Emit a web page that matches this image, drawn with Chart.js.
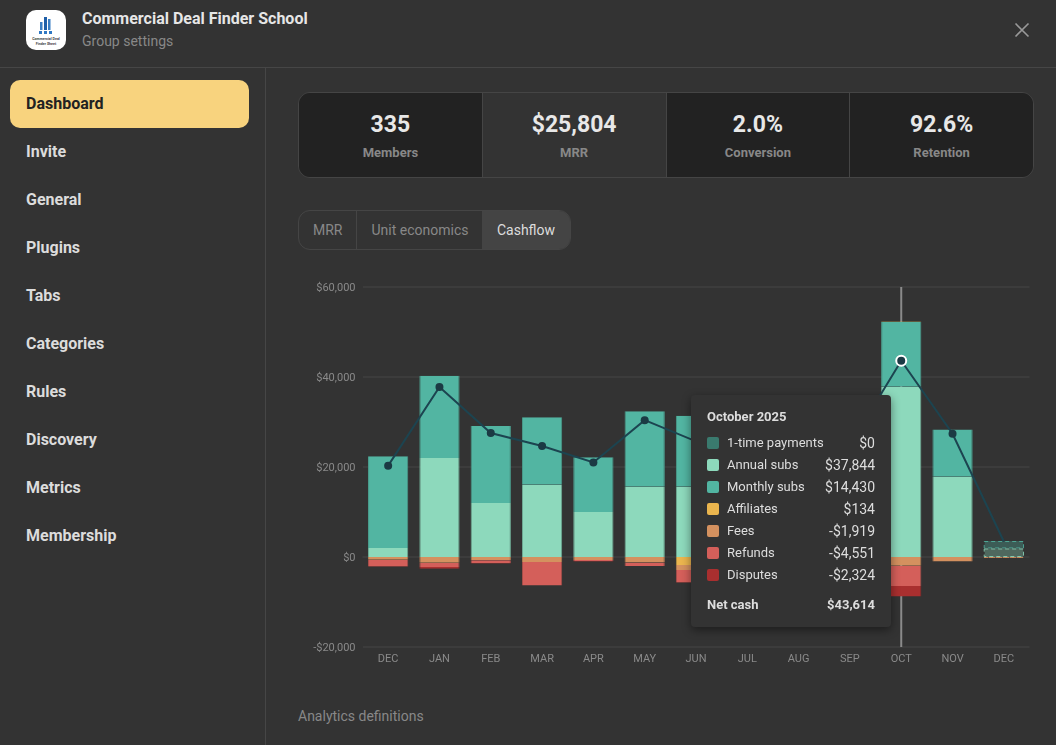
<!DOCTYPE html>
<html>
<head>
<meta charset="utf-8">
<title>Group settings</title>
<script src="https://cdn.jsdelivr.net/npm/chart.js@4"></script>
<style>
    * { box-sizing: border-box; }
    html, body { margin: 0; width: 1056px; height: 745px; overflow: hidden; background: #333; font-family: Roboto, sans-serif; }
    .abs { position: absolute; }
    #header { left: 0; top: 0; width: 1056px; height: 68px; border-bottom: 1px solid #464646; }
    #logo { left: 26px; top: 10px; width: 40px; height: 40px; border-radius: 10px; background: #fff; }
    #title { left: 82px; top: 9px; font-size: 16px; font-weight: 700; color: #e6e6e6; line-height: 20px; }
    #subtitle { left: 82px; top: 32px; font-size: 14px; color: #888; line-height: 18px; }
    #sidebar { left: 0; top: 68px; width: 266px; height: 677px; border-right: 1px solid #464646; }
    .nav { position: absolute; left: 10px; width: 239px; height: 48px; padding-left: 16px; line-height: 47px; font-size: 16px; font-weight: 700; color: #dcdcdc; border-radius: 10px; }
    .nav.active { background: #f8d37e; color: #222; }
    #stats { left: 298px; top: 92px; width: 736px; height: 86px; border: 1px solid #454545; border-radius: 12px; display: flex; overflow: hidden; }
    .stat { flex: 1; background: #222; border-left: 1px solid #454545; text-align: center; }
    .stat:first-child { border-left: 0; }
    .stat.active { background: #333; }
    .stat b { display: block; margin-top: 18px; font-size: 23px; line-height: 28px; color: #e8e8e8; }
    .stat span { display: block; margin-top: 5px; font-size: 13px; line-height: 18px; font-weight: 700; color: #888; }
    #tabs { left: 298px; top: 210px; height: 40px; border: 1px solid #454545; border-radius: 12px; display: flex; overflow: hidden; font-size: 14px; line-height: 39px; color: #888; }
    #tabs div { padding: 0 14px; border-left: 1px solid #454545; }
    #tabs div:first-child { border-left: 0; }
    #tabs div.active { background: #444; color: #ddd; border-left: 0; padding: 0 14.5px; }
    #chartBox { left: 298px; top: 270px; }
    #tip { left: 691px; top: 395px; width: 200px; height: 232px; background: #333; border-radius: 4px; box-shadow: 0 3px 10px rgba(0,0,0,.45); color: #ddd; font-size: 13px; padding: 0 16px; z-index: 5; }
    #tipTitle { position: absolute; left: 16px; top: 13px; font-weight: 700; line-height: 18px; }
    .row { position: absolute; left: 16px; width: 168px; height: 18px; line-height: 18px; }
    .row i { position: absolute; left: 0; top: 3px; width: 12px; height: 12px; border-radius: 2px; }
    .row span { position: absolute; left: 20px; }
    .row em { position: absolute; right: 0; font-style: normal; font-size: 14px; }
    .row.total { font-weight: 700; }
    .row.total span { left: 0; }
    .row.total em { font-size: 13px; }
    #defs { left: 298px; top: 707px; font-size: 14px; line-height: 18px; color: #888; }
</style>
</head>
<body>
<div id="header" class="abs"></div>
<div id="logo" class="abs">
    <svg width="40" height="40" viewBox="0 0 40 40">
        <rect x="14" y="12" width="2.5" height="8" fill="#3b7fc4"/>
        <rect x="18" y="7" width="3" height="13" fill="#1f5fa8"/>
        <rect x="22" y="9" width="2.5" height="11" fill="#3b7fc4"/>
        <rect x="13" y="21" width="3" height="3" fill="#2f78c4"/>
        <rect x="18" y="21" width="3" height="3" fill="#2f78c4"/>
        <rect x="23" y="21" width="3" height="3" fill="#2f78c4"/>
        <text x="20" y="30" font-size="3.6" font-weight="700" text-anchor="middle" fill="#444">Commercial Deal</text>
        <text x="20" y="35" font-size="3.6" font-weight="700" text-anchor="middle" fill="#444">Finder Sheet</text>
    </svg>
</div>
<div id="title" class="abs">Commercial Deal Finder School</div>
<div id="subtitle" class="abs">Group settings</div>
<svg class="abs" style="left:1014px;top:22px" width="16" height="16"><path d="M1.5 1.5 L14.5 14.5 M14.5 1.5 L1.5 14.5" stroke="#999" stroke-width="1.6"/></svg>

<div id="sidebar" class="abs"></div>

<div id="stats" class="abs">
    <div class="stat"><b>335</b><span>Members</span></div>
    <div class="stat active"><b>$25,804</b><span>MRR</span></div>
    <div class="stat"><b>2.0%</b><span>Conversion</span></div>
    <div class="stat"><b>92.6%</b><span>Retention</span></div>
</div>

<div id="tabs" class="abs">
    <div>MRR</div>
    <div>Unit economics</div>
    <div class="active">Cashflow</div>
</div>

<div id="chartBox" class="abs"><canvas id="cashflowChart" width="742" height="410"></canvas></div>
<div id="tip" class="abs"></div>
<div id="defs" class="abs">Analytics definitions</div>

<script>
const navItems = ['Dashboard', 'Invite', 'General', 'Plugins', 'Tabs', 'Categories', 'Rules', 'Discovery', 'Metrics', 'Membership'];

const months = ['DEC', 'JAN', 'FEB', 'MAR', 'APR', 'MAY', 'JUN', 'JUL', 'AUG', 'SEP', 'OCT', 'NOV', 'DEC'];
const oneTimePayments = [0, 0, 0, 0, 0, 0, 0, 0, 0, 0, 0, 0, 0];
const annualSubs = [2000, 22000, 12000, 16070, 10000, 15600, 15600, 15000, 15500, 16000, 37844, 17850, 1900];
const monthlySubs = [20400, 18300, 17100, 15000, 12150, 16800, 15800, 14500, 14000, 13500, 14430, 10500, 1650];
const affiliates = [0, 0, 0, 0, 0, 0, -1800, 0, 0, 0, 134, 0, 0];
const fees = [-600, -1260, -740, -1100, -670, -1200, -1100, -1100, -1100, -1200, -1919, -1000, -100];
const refunds = [-1500, -960, -670, -5260, -300, -800, -2750, -2000, -2000, -2000, -4551, 0, 0];
const disputes = [-100, -370, -100, 0, -100, 0, -100, -400, -400, -400, -2324, 0, 0];
const netCash = [20300, 37800, 27550, 24670, 21000, 30400, 25700, 26000, 26000, 24900, 43614, 27400, 3450];

const seriesNames = ['1-time payments', 'Annual subs', 'Monthly subs', 'Affiliates', 'Fees', 'Refunds', 'Disputes'];
const seriesValues = [oneTimePayments, annualSubs, monthlySubs, affiliates, fees, refunds, disputes];
const seriesColors = ['#3a7a6e', '#8dd9bc', '#52b5a2', '#eab54e', '#d4915f', '#d45f5a', '#a92f2f'];
const seriesBorders = ['#38705f', '#6fae97', '#4a9d8d', '#b99445', '#b57d53', '#a94f4b', '#8a2a2a'];

const activeIndex = 10;
const partialIndex = months.length - 1;
const tipMonth = 'October 2025';
const gridColor = '#3c3c3c';

const sidebar = document.getElementById('sidebar');
navItems.forEach((name, i) => {
    const div = document.createElement('div');
    div.className = i === 0 ? 'nav active' : 'nav';
    div.style.top = (12 + i * 48) + 'px';
    div.textContent = name;
    sidebar.appendChild(div);
});

function money(v) {
    return (v < 0 ? '-$' : '$') + Math.abs(v).toLocaleString('en-US');
}

function hexAlpha(hex, a) {
    const n = parseInt(hex.slice(1), 16);
    return `rgba(${n >> 16}, ${(n >> 8) & 255}, ${n & 255}, ${a})`;
}

// Zero line and crosshair sit behind the bars, current month outline is dashed on top
const cashflowOverlay = {
    id: 'cashflowOverlay',
    beforeDatasetsDraw(chart) {
        const { ctx, chartArea, scales } = chart;
        const x = scales.x.getPixelForValue(activeIndex);
        const zero = scales.y.getPixelForValue(0);
        ctx.save();
        ctx.strokeStyle = gridColor;
        ctx.lineWidth = 2;
        ctx.beginPath();
        ctx.moveTo(chartArea.left, zero);
        ctx.lineTo(chartArea.right, zero);
        ctx.stroke();
        ctx.strokeStyle = '#8a8a8a';
        ctx.beginPath();
        ctx.moveTo(x, chartArea.top);
        ctx.lineTo(x, chartArea.bottom);
        ctx.stroke();
        ctx.restore();
    },
    afterDatasetDraw(chart, args) {
        if (args.index >= seriesNames.length) return;
        const bar = chart.getDatasetMeta(args.index).data[partialIndex];
        const value = seriesValues[args.index][partialIndex];
        if (!bar || !value) return;
        const { ctx } = chart;
        const box = bar.getProps(['x', 'y', 'base', 'width'], true);
        ctx.save();
        ctx.strokeStyle = hexAlpha(seriesColors[args.index], 0.85);
        ctx.lineWidth = 1;
        ctx.setLineDash([4, 3]);
        ctx.strokeRect(box.x - box.width / 2 + 0.5, Math.min(box.y, box.base) + 0.5, box.width - 1, Math.max(Math.abs(box.base - box.y) - 1, 0));
        ctx.restore();
    }
};

const barDatasets = seriesNames.map((name, i) => ({
    type: 'bar',
    label: name,
    data: seriesValues[i],
    order: 2,
    backgroundColor: (c) => c.dataIndex === partialIndex ? hexAlpha(seriesColors[i], 0.32) : seriesColors[i],
    borderColor: (c) => c.dataIndex === partialIndex ? 'transparent' : seriesBorders[i],
    borderWidth: { left: 1, right: 1, top: 0, bottom: 0 },
    borderSkipped: false,
    categoryPercentage: 1,
    barPercentage: 0.785
}));

const netDataset = {
    type: 'line',
    label: 'Net cash',
    data: netCash,
    order: 1,
    borderColor: '#1c4450',
    borderWidth: 2,
    tension: 0,
    pointRadius: (c) => c.dataIndex === activeIndex ? 5 : (c.dataIndex === partialIndex ? 0 : 4),
    pointBackgroundColor: '#1b3a44',
    pointBorderColor: (c) => c.dataIndex === activeIndex ? '#fff' : '#1b3a44',
    pointBorderWidth: (c) => c.dataIndex === activeIndex ? 2 : 0
};

new Chart(document.getElementById('cashflowChart').getContext('2d'), {
    data: { labels: months, datasets: [...barDatasets, netDataset] },
    options: {
        responsive: false,
        animation: false,
        events: [],
        layout: { padding: { top: 17, right: 10.5, bottom: 0, left: 0 } },
        plugins: { legend: { display: false }, tooltip: { enabled: false } },
        scales: {
            x: {
                stacked: true,
                grid: { display: false, drawTicks: false },
                border: { display: false },
                ticks: { color: '#8a8a8a', font: { family: 'Roboto', size: 11 }, padding: 6, maxRotation: 0, autoSkip: false },
                afterFit(scale) { scale.height = 33; }
            },
            y: {
                stacked: true,
                min: -20000,
                max: 60000,
                // zero gridline width would push the bars off the baseline, it is drawn in the overlay instead
                grid: { color: gridColor, lineWidth: (c) => c.tick && c.tick.value === 0 ? 0 : 2, drawTicks: false },
                border: { display: false },
                ticks: { stepSize: 20000, color: '#8a8a8a', font: { family: 'Roboto', size: 11 }, padding: 7, labelOffset: 1, callback: (v) => money(v) },
                afterFit(scale) { scale.width = 64.5; }
            }
        }
    },
    plugins: [cashflowOverlay]
});

// Tooltip panel pinned to the active month
const tip = document.getElementById('tip');
let tipHtml = `<div id="tipTitle">${tipMonth}</div>`;
seriesNames.forEach((name, i) => {
    tipHtml += `<div class="row" style="top:${39 + i * 22}px"><i style="background:${seriesColors[i]}"></i><span>${name}</span><em>${money(seriesValues[i][activeIndex])}</em></div>`;
});
tipHtml += `<div class="row total" style="top:201px"><span>Net cash</span><em>${money(netCash[activeIndex])}</em></div>`;
tip.innerHTML = tipHtml;
</script>
</body>
</html>
